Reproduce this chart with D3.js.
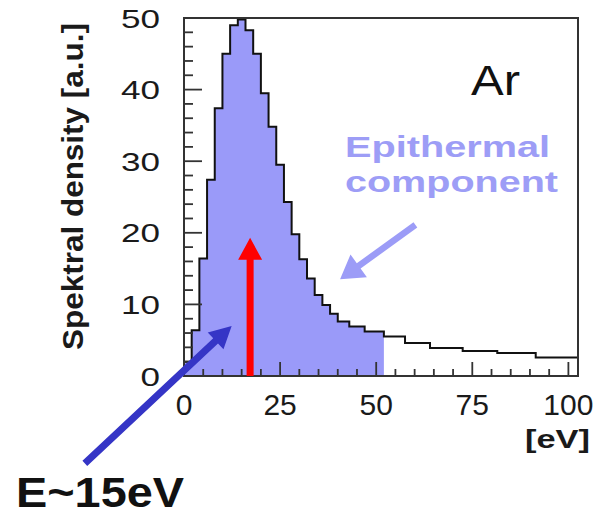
<!DOCTYPE html>
<html>
<head>
<meta charset="utf-8">
<script src="https://cdn.jsdelivr.net/npm/d3@7"></script>
<style>
  html, body { margin: 0; padding: 0; background: #fff; }
  svg { display: block; }
  text { font-family: "Liberation Sans", Arial, Helvetica, sans-serif; }
</style>
</head>
<body>
<svg id="chart" width="598" height="517"></svg>
<script>
// Histogram bin edges [eV] and spectral density per bin [a.u.]
const binEdges = [0, 2, 4, 6, 8, 10, 12, 14, 16, 18, 20, 22, 24, 26, 28, 30, 32, 34, 36, 38, 40,
                  43, 47, 52, 57.5, 64, 72.5, 81.5, 91.5, 102.5];
const density  = [2.0, 6.4, 16.4, 27.4, 37.4, 45.0, 49.0, 49.8, 48.3, 45.0, 39.5, 34.8, 29.5, 24.3,
                  19.8, 16.3, 13.6, 11.3, 9.9, 8.7, 7.6, 6.9, 6.2, 5.5, 4.6, 3.9, 3.5, 3.2, 2.6];
// Shaded (low-energy) part of the spectrum ends here
const shadeLimit = 52;

const xTickLabels = [0, 25, 50, 75, 100];
const yTickLabels = [0, 10, 20, 30, 40, 50];
const xMinorStep = 5;
const yMinorStep = 2;

const svg = d3.select("#chart");

const x = d3.scaleLinear().domain([0, 102.5]).range([184, 578]);
const y = d3.scaleLinear().domain([0, 50]).range([376, 18]);

// Step points: each bin value starts at its left edge, closed by the last edge
const steps = density.map((v, i) => ({ e: binEdges[i], v }));
steps.push({ e: binEdges[binEdges.length - 1], v: density[density.length - 1] });

// Shaded area under the low-energy part
const shaded = steps.filter(d => d.e < shadeLimit);
shaded.push({ e: shadeLimit, v: shaded[shaded.length - 1].v });
svg.append("path")
  .datum(shaded)
  .attr("fill", "#9a9af9")
  .attr("d", d3.area().curve(d3.curveStepAfter)
    .x(d => x(d.e)).y0(y(0)).y1(d => y(d.v)));

// Histogram outline
const outline = [{ e: 0, v: 0 }].concat(steps);
svg.append("path")
  .datum(outline)
  .attr("fill", "none")
  .attr("stroke", "#111")
  .attr("stroke-width", 2)
  .attr("d", d3.line().curve(d3.curveStepAfter).x(d => x(d.e)).y(d => y(d.v)));

// Frame
svg.append("rect")
  .attr("x", x(0)).attr("y", y(50))
  .attr("width", x(102.5) - x(0)).attr("height", y(0) - y(50))
  .attr("fill", "none").attr("stroke", "#333").attr("stroke-width", 2);

// Inward ticks
const tickColor = "#333";
const yTicks = d3.range(0, 50 + 0.001, yMinorStep);
svg.append("g").selectAll("line").data(yTicks).join("line")
  .attr("x1", x(0)).attr("x2", d => x(0) + (d % 10 === 0 ? 18 : 9))
  .attr("y1", d => y(d)).attr("y2", d => y(d))
  .attr("stroke", tickColor).attr("stroke-width", 1.8);

const xTicks = d3.range(0, 100 + 0.001, xMinorStep);
svg.append("g").selectAll("line").data(xTicks).join("line")
  .attr("x1", d => x(d)).attr("x2", d => x(d))
  .attr("y1", y(0)).attr("y2", d => y(0) - (d % 25 === 0 ? 14 : 7))
  .attr("stroke", tickColor).attr("stroke-width", 1.8);

// Tick labels
svg.append("g").selectAll("text").data(xTickLabels).join("text")
  .attr("x", d => x(d)).attr("y", 415)
  .attr("text-anchor", "middle")
  .attr("font-size", 30).attr("fill", "#1a1a1a")
  .text(d => d);

svg.append("g").selectAll("text").data(yTickLabels).join("text")
  .attr("transform", d => `translate(160,${y(d) + 9.5}) scale(1.35,1)`)
  .attr("text-anchor", "end")
  .attr("font-size", 26).attr("fill", "#1a1a1a")
  .text(d => d);

// Axis titles
svg.append("text")
  .attr("transform", "translate(83,186.5) rotate(-90)")
  .attr("text-anchor", "middle")
  .attr("font-size", 29).attr("font-weight", "bold").attr("fill", "#1a1a1a")
  .attr("textLength", 327).attr("lengthAdjust", "spacingAndGlyphs")
  .text("Spektral density [a.u.]");

svg.append("text")
  .attr("x", 590).attr("y", 448)
  .attr("text-anchor", "end")
  .attr("font-size", 26).attr("font-weight", "bold").attr("fill", "#1a1a1a")
  .attr("textLength", 65).attr("lengthAdjust", "spacingAndGlyphs")
  .text("[eV]");

// Arrow drawn as a filled polygon from tail to tip (data coordinates)
function arrow(tail, tip, shaftW, headL, headW, color) {
  const x1 = x(tail[0]), y1 = y(tail[1]), x2 = x(tip[0]), y2 = y(tip[1]);
  const len = Math.hypot(x2 - x1, y2 - y1);
  const ux = (x2 - x1) / len, uy = (y2 - y1) / len;
  const nx = -uy, ny = ux;
  const bx = x2 - ux * headL, by = y2 - uy * headL;
  const pts = [
    [x1 + nx * shaftW / 2, y1 + ny * shaftW / 2],
    [bx + nx * shaftW / 2, by + ny * shaftW / 2],
    [bx + nx * headW / 2, by + ny * headW / 2],
    [x2, y2],
    [bx - nx * headW / 2, by - ny * headW / 2],
    [bx - nx * shaftW / 2, by - ny * shaftW / 2],
    [x1 - nx * shaftW / 2, y1 - ny * shaftW / 2]
  ];
  svg.append("polygon")
    .attr("points", pts.map(p => p.join(",")).join(" "))
    .attr("fill", color);
}

// Mean energy marker
arrow([17.2, 0], [17.2, 19.3], 7, 22, 24, "#ff0000");
// Pointer from the E~15eV label
arrow([-25.8, -12.2], [12.4, 7.0], 7, 22, 23, "#3535c6");
// Pointer to the epithermal tail
arrow([60.2, 21.1], [40.6, 13.5], 6.5, 23, 28, "#9c9cf7");

// Annotations
svg.append("text")
  .attr("x", 471).attr("y", 95)
  .attr("font-size", 42).attr("fill", "#111")
  .attr("textLength", 49).attr("lengthAdjust", "spacingAndGlyphs")
  .text("Ar");

svg.append("text")
  .attr("x", 345).attr("y", 157)
  .attr("font-size", 30).attr("font-weight", "bold").attr("fill", "#9d9df6")
  .attr("textLength", 205).attr("lengthAdjust", "spacingAndGlyphs")
  .text("Epithermal");

svg.append("text")
  .attr("x", 345).attr("y", 192)
  .attr("font-size", 30).attr("font-weight", "bold").attr("fill", "#9d9df6")
  .attr("textLength", 213).attr("lengthAdjust", "spacingAndGlyphs")
  .text("component");

svg.append("text")
  .attr("x", 16).attr("y", 507)
  .attr("font-size", 42).attr("font-weight", "bold").attr("fill", "#111")
  .attr("textLength", 168).attr("lengthAdjust", "spacingAndGlyphs")
  .text("E~15eV");
</script>
</body>
</html>
